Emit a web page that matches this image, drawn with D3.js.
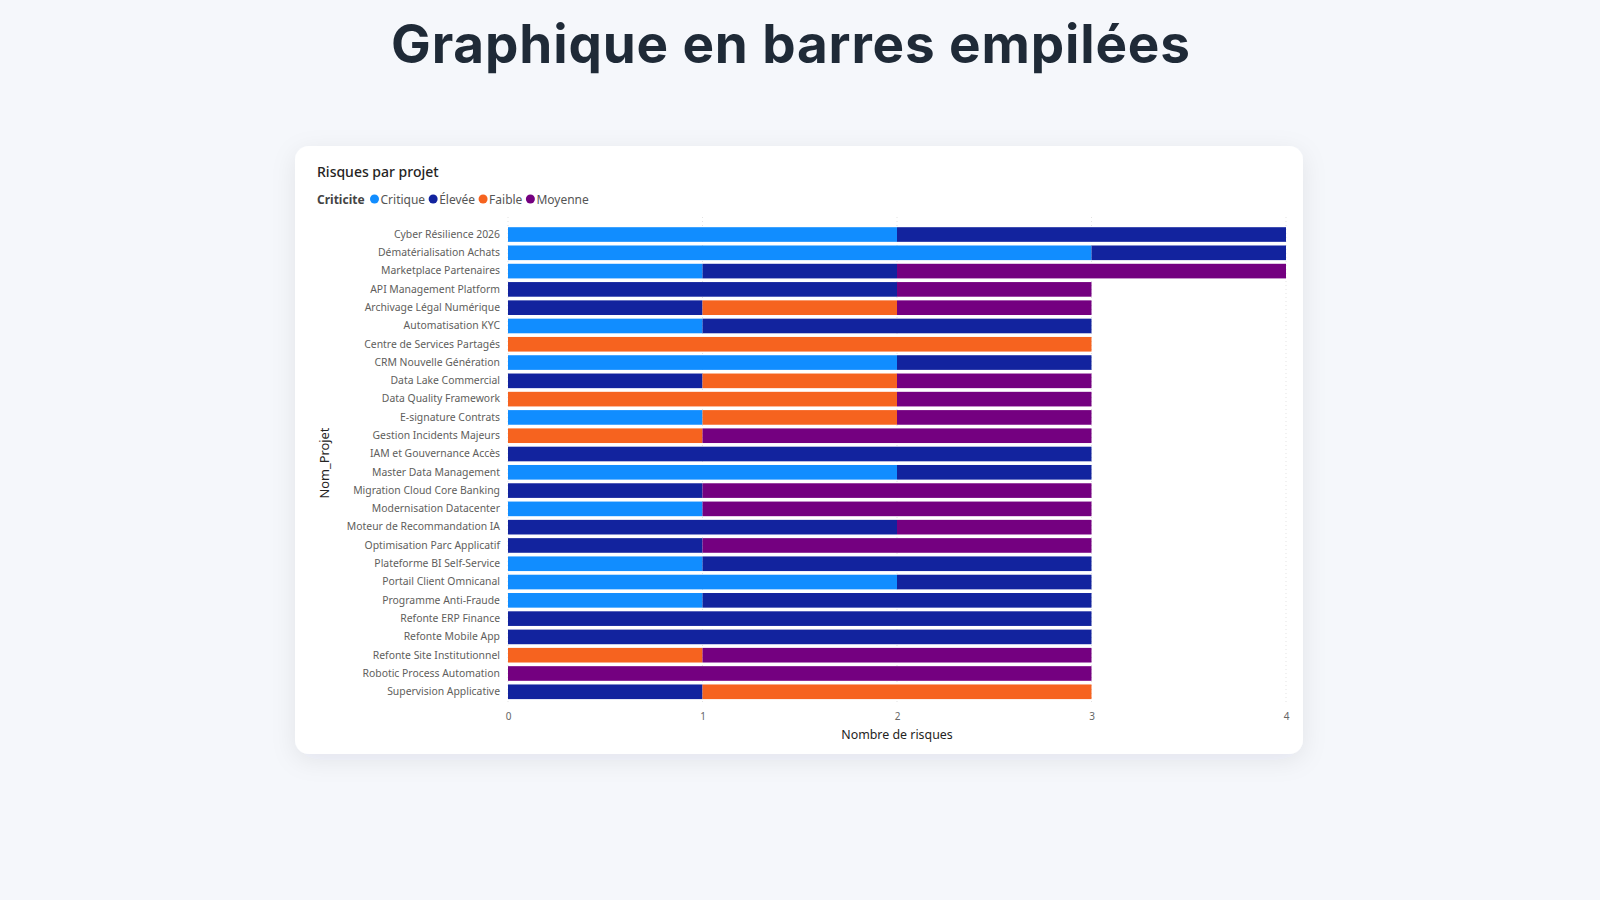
<!DOCTYPE html>
<html lang="fr">
<head>
<meta charset="utf-8">
<script src="https://cdn.jsdelivr.net/npm/d3@7"></script>
<style>
  html, body { margin: 0; padding: 0; background: #f5f7fb; }
  svg { display: block; }
</style>
</head>
<body>
<svg width="1600" height="900"></svg>
<script>
// données
const projets = [
  "Cyber Résilience 2026", "Dématérialisation Achats", "Marketplace Partenaires",
  "API Management Platform", "Archivage Légal Numérique", "Automatisation KYC",
  "Centre de Services Partagés", "CRM Nouvelle Génération", "Data Lake Commercial",
  "Data Quality Framework", "E-signature Contrats", "Gestion Incidents Majeurs",
  "IAM et Gouvernance Accès", "Master Data Management", "Migration Cloud Core Banking",
  "Modernisation Datacenter", "Moteur de Recommandation IA", "Optimisation Parc Applicatif",
  "Plateforme BI Self-Service", "Portail Client Omnicanal", "Programme Anti-Fraude",
  "Refonte ERP Finance", "Refonte Mobile App", "Refonte Site Institutionnel",
  "Robotic Process Automation", "Supervision Applicative"
];
const criticites = ["Critique", "Élevée", "Faible", "Moyenne"];
const couleurs = ["#118DFF", "#12239E", "#F6631F", "#740080"];

const critique = [2, 3, 1, 0, 0, 1, 0, 2, 0, 0, 1, 0, 0, 2, 0, 1, 0, 0, 1, 2, 1, 0, 0, 0, 0, 0];
const elevee   = [2, 1, 1, 2, 1, 2, 0, 1, 1, 0, 0, 0, 3, 1, 1, 0, 2, 1, 2, 1, 2, 3, 3, 0, 0, 1];
const faible   = [0, 0, 0, 0, 1, 0, 3, 0, 1, 2, 1, 1, 0, 0, 0, 0, 0, 0, 0, 0, 0, 0, 0, 1, 0, 2];
const moyenne  = [0, 0, 2, 1, 1, 0, 0, 0, 1, 1, 1, 2, 0, 0, 2, 2, 1, 2, 0, 0, 0, 0, 0, 2, 3, 0];

const xTicks = [0, 1, 2, 3, 4];

const rows = projets.map((p, i) => ({
  projet: p,
  "Critique": critique[i], "Élevée": elevee[i], "Faible": faible[i], "Moyenne": moyenne[i]
}));

const svg = d3.select("svg");
const font = "'Noto Sans', 'Open Sans', sans-serif";

// titre de page
svg.append("text")
  .attr("x", 391).attr("y", 63)
  .attr("textLength", 799).attr("lengthAdjust", "spacing")
  .attr("font-family", "Inter, 'Noto Sans', sans-serif")
  .attr("font-weight", 700)
  .attr("font-size", 53)
  .attr("fill", "#1f2a37")
  .text("Graphique en barres empilées");

// carte
const defs = svg.append("defs");
const f = defs.append("filter").attr("id", "ombre")
  .attr("x", "-10%").attr("y", "-10%").attr("width", "120%").attr("height", "125%");
f.append("feDropShadow")
  .attr("dx", 0).attr("dy", 6).attr("stdDeviation", 12)
  .attr("flood-color", "#1f2a44").attr("flood-opacity", 0.08);

svg.append("rect")
  .attr("x", 295).attr("y", 146).attr("width", 1008).attr("height", 608)
  .attr("rx", 14).attr("fill", "#fff")
  .attr("filter", "url(#ombre)");

svg.append("text")
  .attr("x", 317).attr("y", 177)
  .attr("font-family", font).attr("font-size", 14).attr("font-weight", 500)
  .attr("fill", "#252423")
  .text("Risques par projet");

// légende
const leg = svg.append("g").attr("transform", "translate(317,199)");
leg.append("text")
  .attr("x", 0).attr("y", 4.5)
  .attr("font-family", font).attr("font-size", 12).attr("font-weight", 700)
  .attr("fill", "#444")
  .text("Criticite");
let lx = 57.5;
criticites.forEach((c, i) => {
  leg.append("circle").attr("cx", lx).attr("cy", 0).attr("r", 4.5).attr("fill", couleurs[i]);
  const t = leg.append("text")
    .attr("x", lx + 6).attr("y", 4.5)
    .attr("font-family", font).attr("font-size", 12)
    .attr("fill", "#555")
    .text(c);
  lx += 6 + t.node().getComputedTextLength() + 8;
});

// échelles
const x = d3.scaleLinear().domain([0, 4]).range([508, 1286]);
const y = d3.scaleBand().domain(projets).range([227.2, 699.1]).paddingInner(0.2).paddingOuter(0);
const color = d3.scaleOrdinal().domain(criticites).range(couleurs);

// grille pointillée
svg.append("g")
  .selectAll("line")
  .data(xTicks)
  .join("line")
    .attr("x1", d => x(d)).attr("x2", d => x(d))
    .attr("y1", 217).attr("y2", 704)
    .attr("stroke", "#e3e3e3")
    .attr("stroke-dasharray", "1,3");

// barres empilées
const series = d3.stack().keys(criticites)(rows);
svg.append("g")
  .selectAll("g")
  .data(series)
  .join("g")
    .attr("fill", d => color(d.key))
  .selectAll("rect")
  .data(d => d.filter(s => s[1] > s[0]))
  .join("rect")
    .attr("x", d => x(d[0]))
    .attr("y", d => y(d.data.projet))
    .attr("width", d => x(d[1]) - x(d[0]))
    .attr("height", y.bandwidth());

// axe y
const yAxis = svg.append("g")
  .attr("transform", "translate(508,0)")
  .call(d3.axisLeft(y).tickSize(0).tickPadding(8));
yAxis.select(".domain").remove();
yAxis.selectAll("text")
  .attr("font-family", font).attr("font-size", 10.4).attr("fill", "#605E5C");

// axe x
const xAxis = svg.append("g")
  .attr("transform", "translate(0,709)")
  .call(d3.axisBottom(x).tickValues(xTicks).tickFormat(d3.format("d")).tickSize(0).tickPadding(4));
xAxis.select(".domain").remove();
xAxis.selectAll("text")
  .attr("font-family", font).attr("font-size", 10).attr("fill", "#666");

// titres d'axes
svg.append("text")
  .attr("x", 897).attr("y", 739)
  .attr("text-anchor", "middle")
  .attr("font-family", font).attr("font-size", 12.4)
  .attr("fill", "#252423")
  .text("Nombre de risques");

svg.append("text")
  .attr("transform", "translate(329,463) rotate(-90)")
  .attr("text-anchor", "middle")
  .attr("font-family", font).attr("font-size", 12.8)
  .attr("fill", "#252423")
  .text("Nom_Projet");
</script>
</body>
</html>
